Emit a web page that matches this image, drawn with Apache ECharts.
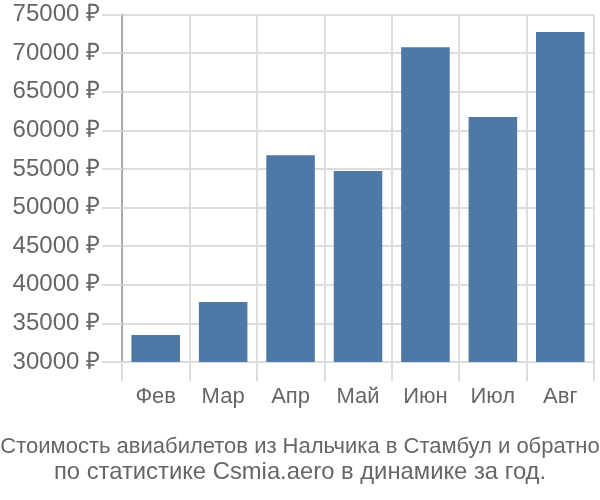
<!DOCTYPE html>
<html><head><meta charset="utf-8">
<script src="https://cdn.jsdelivr.net/npm/echarts@6/dist/echarts.min.js"></script>
<style>html,body{margin:0;padding:0;background:#fff}#c{width:600px;height:500px}</style>
</head><body><div id="c"></div>
<script>
const categories = ['Фев','Мар','Апр','Май','Июн','Июл','Авг'];
const prices = [33500, 37770, 56770, 54730, 70750, 61730, 72730];
const titleLines = ['Стоимость авиабилетов из Нальчика в Стамбул и обратно','по статистике Csmia.aero в динамике за год.'];
const yMin = 30000, yMax = 75000, yStep = 5000;

const chart = echarts.init(document.getElementById('c'), null, {renderer:'canvas'});
chart.setOption({
  animation:false,
  title:[
    {text:titleLines[0], left:'center', top:435, padding:0,
     textStyle:{fontFamily:'Liberation Sans Narrow, Liberation Sans', fontSize:22, fontWeight:'normal', color:'#666', lineHeight:24}},
    {text:titleLines[1], left:'center', top:460, padding:0,
     textStyle:{fontFamily:'Liberation Sans Narrow, Liberation Sans', fontSize:23.8, fontWeight:'normal', color:'#666', lineHeight:24}}
  ],
  grid:{left:122, right:6, top:14.5, bottom:138},
  xAxis:{type:'category', data:categories,
    axisLine:{show:true, lineStyle:{color:'#ddd', width:2}},
    axisTick:{show:true, length:19, alignWithLabel:false, lineStyle:{color:'#ddd', width:2}},
    splitLine:{show:true, lineStyle:{color:'#ddd', width:2}},
    axisLabel:{fontFamily:'Liberation Sans', fontSize:22, color:'#666', margin:24}},
  yAxis:{type:'value', min:yMin, max:yMax, interval:yStep,
    axisLine:{show:true, lineStyle:{color:'#aaa', width:2}},
    axisTick:{show:true, length:20, lineStyle:{color:'#ddd', width:2}},
    splitLine:{show:true, lineStyle:{color:'#ddd', width:2}},
    axisLabel:{fontFamily:'Liberation Sans', fontSize:24, color:'#666', margin:22, formatter:v=>v+' ₽'}},
  series:[{type:'bar', data:prices, barCategoryGap:'28%', itemStyle:{color:'#4e79a7'}}]
});
</script></body></html>
